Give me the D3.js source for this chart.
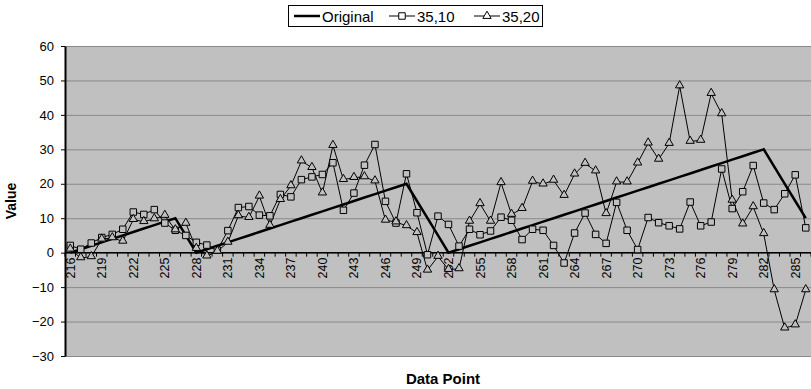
<!DOCTYPE html>
<html>
<head>
<meta charset="utf-8">
<script src="https://cdn.jsdelivr.net/npm/d3@7/dist/d3.min.js"></script>
<style>
  body { margin: 0; background: #fff; }
  svg { display: block; font-family: "Liberation Sans", Arial, sans-serif; }
</style>
</head>
<body>
<div id="chart"></div>
<script>
// category labels (data point index)
var categories = [216, 217, 218, 219, 220, 221, 222, 223, 224, 225, 226, 227, 228, 229, 230,
  231, 232, 233, 234, 235, 236, 237, 238, 239, 240, 241, 242, 243, 244, 245, 246, 247, 248,
  249, 250, 251, 252, 253, 254, 255, 256, 257, 258, 259, 260, 261, 262, 263, 264, 265, 266,
  267, 268, 269, 270, 271, 272, 273, 274, 275, 276, 277, 278, 279, 280, 281, 282, 283, 284,
  285, 286];

var original = [0, 1, 2, 3, 4, 5, 6, 7, 8, 9, 10, 5, 0,
  1, 2, 3, 4, 5, 6, 7, 8, 9, 10, 11, 12, 13, 14, 15, 16, 17, 18, 19, 20,
  15, 10, 5, 0,
  1, 2, 3, 4, 5, 6, 7, 8, 9, 10, 11, 12, 13, 14, 15, 16, 17, 18, 19, 20,
  21, 22, 23, 24, 25, 26, 27, 28, 29, 30,
  25, 20, 15, 10];

var series3510 = [2.1, 1.0, 2.8, 4.4, 5.3, 6.8, 11.8, 11.1, 12.5, 8.6, 6.5, 5.0, 3.0, 2.2, 0.7,
  6.4, 13.1, 13.4, 10.9, 10.7, 16.9, 16.2, 21.2, 22.0, 22.7, 26.1, 12.3, 17.3, 25.4, 31.4,
  14.9, 8.6, 22.9, 11.6, -0.6, 10.6, 8.2, 1.9, 6.8, 5.2, 6.3, 10.3, 9.4, 3.8, 6.8, 6.5, 2.1,
  -3.0, 5.7, 11.5, 5.3, 2.7, 14.6, 6.5, 0.9, 10.2, 8.7, 7.8, 6.9, 14.7, 7.8, 8.9, 24.3, 12.8,
  17.7, 25.3, 14.4, 12.5, 17.1, 22.6, 7.2];

var series3520 = [1.0, -1.5, -1.2, 3.9, 4.3, 3.3, 9.6, 9.0, 9.8, 10.8, 6.6, 8.5, 1.2, -1.0, 0.4,
  3.0, 10.7, 10.2, 16.4, 7.9, 15.4, 19.4, 26.6, 24.7, 17.3, 31.1, 21.2, 21.8, 22.0, 20.8,
  9.4, 8.9, 7.8, 5.8, -5.1, -1.1, -4.9, -4.7, 9.1, 14.2, 9.1, 20.3, 11.1, 12.8, 20.7, 19.9,
  21.0, 16.6, 22.8, 25.9, 23.7, 11.3, 20.5, 20.5, 26.0, 31.8, 27.1, 31.7, 48.4, 32.3, 32.6,
  46.2, 40.3, 15.2, 8.3, 13.3, 5.5, -10.8, -21.9, -21.0, -10.8];

var yTicks = [-30, -20, -10, 0, 10, 20, 30, 40, 50, 60];
var seriesNames = ["Original", "35,10", "35,20"];

var svgWidth = 811;
var svgHeight = 389;
var plot = { left: 65, right: 811, top: 46, bottom: 356 };

var svg = d3.select("#chart")
  .append("svg")
  .attr("width", svgWidth)
  .attr("height", svgHeight);

// scales
var x = d3.scaleBand()
  .domain(categories)
  .range([plot.left, plot.right])
  .padding(0);
var xc = d => x(d) + x.bandwidth() / 2;

var y = d3.scaleLinear()
  .domain([-30, 60])
  .range([plot.bottom, plot.top]);

// plot background
svg.append("rect")
  .attr("x", plot.left)
  .attr("y", plot.top)
  .attr("width", plot.right - plot.left)
  .attr("height", plot.bottom - plot.top)
  .attr("fill", "#c0c0c0");

// gridlines
svg.append("g")
  .attr("transform", `translate(${plot.left},0)`)
  .call(d3.axisLeft(y).tickValues(yTicks).tickSize(-(plot.right - plot.left)).tickFormat(""))
  .call(g => g.select(".domain").remove())
  .selectAll("line")
  .attr("stroke", "#8a8a8a")
  .attr("stroke-width", 1);

// y axis
var yAxis = svg.append("g")
  .attr("transform", `translate(${plot.left},0)`)
  .call(d3.axisLeft(y).tickValues(yTicks).tickSize(4).tickPadding(7).tickSizeOuter(0));
yAxis.select(".domain").attr("stroke", "#000").attr("stroke-width", 2);
yAxis.selectAll("line").attr("stroke", "#000");
yAxis.selectAll("text")
  .attr("font-family", "Liberation Sans, Arial, sans-serif")
  .attr("font-size", 13)
  .attr("fill", "#000");

// x axis at zero: ticks between categories
var xAxisG = svg.append("g").attr("transform", `translate(0,${y(0)})`);
xAxisG.append("line")
  .attr("x1", plot.left)
  .attr("x2", plot.right)
  .attr("stroke", "#000")
  .attr("stroke-width", 1.5);
var boundaries = categories.map(d => x(d)).concat([plot.right]);
xAxisG.selectAll(".xtick")
  .data(boundaries)
  .enter()
  .append("line")
  .attr("class", "xtick")
  .attr("x1", d => d)
  .attr("x2", d => d)
  .attr("y1", 0)
  .attr("y2", 4)
  .attr("stroke", "#000");
xAxisG.selectAll(".xlab")
  .data(categories.filter((d, i) => i % 3 === 0))
  .enter()
  .append("text")
  .attr("class", "xlab")
  .attr("transform", d => `translate(${xc(d) + 4.5},5) rotate(-90)`)
  .attr("text-anchor", "end")
  .attr("font-size", 12.5)
  .text(d => d);

// lines
var lineGen = d3.line()
  .x((d, i) => xc(categories[i]))
  .y(d => y(d));

svg.append("path")
  .datum(series3510)
  .attr("d", lineGen)
  .attr("fill", "none")
  .attr("stroke", "#000")
  .attr("stroke-width", 1);

svg.append("path")
  .datum(series3520)
  .attr("d", lineGen)
  .attr("fill", "none")
  .attr("stroke", "#000")
  .attr("stroke-width", 1);

svg.append("path")
  .datum(original)
  .attr("d", lineGen)
  .attr("fill", "none")
  .attr("stroke", "#000")
  .attr("stroke-width", 2.5)
  .attr("stroke-linejoin", "miter");

// markers
var square = d3.symbol().type(d3.symbolSquare).size(42);
var triangle = d3.symbol().type(d3.symbolTriangle).size(30);

svg.selectAll(".sq")
  .data(series3510)
  .enter()
  .append("path")
  .attr("class", "sq")
  .attr("d", square)
  .attr("transform", (d, i) => `translate(${xc(categories[i])},${y(d)})`)
  .attr("fill", "#c0c0c0")
  .attr("stroke", "#000")
  .attr("stroke-width", 1);

svg.selectAll(".tri")
  .data(series3520)
  .enter()
  .append("path")
  .attr("class", "tri")
  .attr("d", triangle)
  .attr("transform", (d, i) => `translate(${xc(categories[i])},${y(d) - 0.5})`)
  .attr("fill", "#c0c0c0")
  .attr("stroke", "#000")
  .attr("stroke-width", 1);

// axis titles
svg.append("text")
  .attr("transform", `translate(16,${(plot.top + plot.bottom) / 2}) rotate(-90)`)
  .attr("text-anchor", "middle")
  .attr("font-size", 14)
  .attr("font-weight", "bold")
  .text("Value");

svg.append("text")
  .attr("x", 443)
  .attr("y", 384)
  .attr("text-anchor", "middle")
  .attr("font-size", 15)
  .attr("font-weight", "bold")
  .text("Data Point");

// legend
var legend = svg.append("g");
legend.append("rect")
  .attr("x", 288.5)
  .attr("y", 5.5)
  .attr("width", 254)
  .attr("height", 21)
  .attr("fill", "#fff")
  .attr("stroke", "#000");

var legendItems = [
  { name: seriesNames[0], x: 294, marker: null, width: 2.5 },
  { name: seriesNames[1], x: 389, marker: square, width: 1 },
  { name: seriesNames[2], x: 474, marker: triangle, width: 1 }
];
legendItems.forEach(function(item) {
  var g = legend.append("g").attr("transform", `translate(${item.x},16)`);
  g.append("line")
    .attr("x1", 0)
    .attr("x2", 26)
    .attr("stroke", "#000")
    .attr("stroke-width", item.width);
  if (item.marker) {
    g.append("path")
      .attr("d", item.marker)
      .attr("transform", "translate(13,0)")
      .attr("fill", "#fff")
      .attr("stroke", "#000");
  }
  g.append("text")
    .attr("x", 28)
    .attr("y", 5.5)
    .attr("font-size", 15)
    .text(item.name);
});
</script>
</body>
</html>
